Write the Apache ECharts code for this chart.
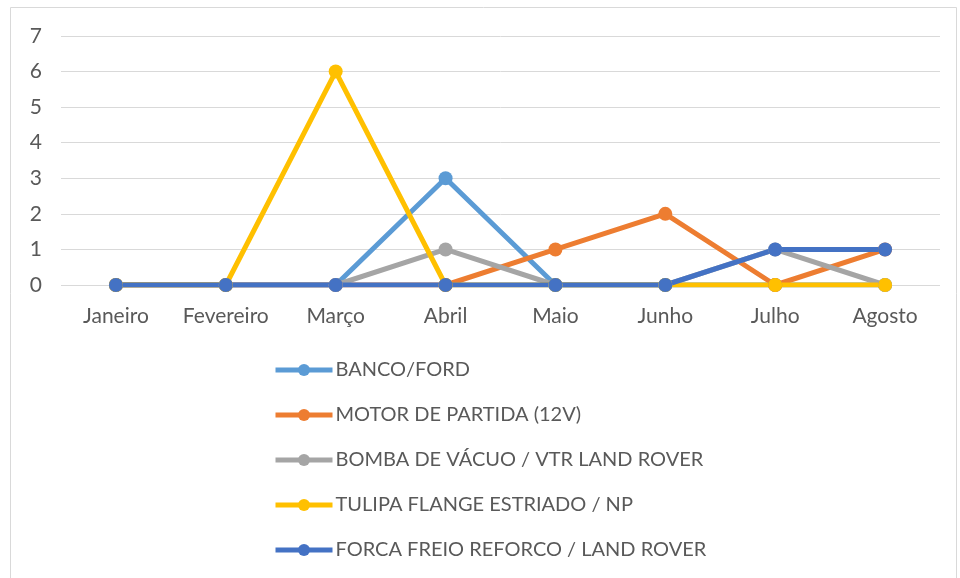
<!DOCTYPE html>
<html>
<head>
<meta charset="utf-8">
<script src="https://cdn.jsdelivr.net/npm/echarts@6/dist/echarts.min.js"></script>
<style>
html,body{margin:0;padding:0;background:#fff;}
#chart{width:960px;height:578px;}
</style>
</head>
<body>
<div id="chart"></div>
<script>
var months = ['Janeiro','Fevereiro','Março','Abril','Maio','Junho','Julho','Agosto'];
var bancoFord = [0,0,0,3,0,0,0,0];
var motorPartida = [0,0,0,0,1,2,0,1];
var bombaVacuo = [0,0,0,1,0,0,1,0];
var tulipaFlange = [0,0,6,0,0,0,0,0];
var forcaFreio = [0,0,0,0,0,0,1,1];

var names = ['BANCO/FORD','MOTOR DE PARTIDA (12V)','BOMBA DE VÁCUO / VTR LAND ROVER','TULIPA FLANGE ESTRIADO / NP','FORCA FREIO REFORCO / LAND ROVER'];
var colors = ['#5B9BD5','#ED7D31','#A5A5A5','#FFC000','#4472C4'];
var values = [bancoFord, motorPartida, bombaVacuo, tulipaFlange, forcaFreio];

var font = 'Lato, "Open Sans", sans-serif';

function makeSeries(i) {
    return {
        name: names[i],
        type: 'line',
        data: values[i],
        symbol: 'circle',
        symbolSize: 14,
        showSymbol: true,
        animation: false,
        lineStyle: {width: 5, color: colors[i]},
        itemStyle: {color: colors[i]}
    };
}

var chart = echarts.init(document.getElementById('chart'));
chart.setOption({
    color: colors,
    animation: false,
    graphic: [{
        type: 'rect',
        shape: {x: 10.5, y: 7.5, width: 946, height: 580},
        style: {fill: 'none', stroke: '#d9d9d9', lineWidth: 1}
    }],
    grid: {left: 61, right: 20, top: 36, bottom: 293},
    legend: {
        orient: 'vertical',
        left: 273,
        top: 360,
        height: 218,
        padding: 0,
        itemWidth: 57,
        itemHeight: 15,
        itemGap: 25,
        lineStyle: {width: 5},
        textStyle: {fontFamily: font, fontSize: 20, lineHeight: 20, color: '#595959', padding: [0, 0, 0, -2]},
        data: names
    },
    xAxis: {
        type: 'category',
        data: months,
        boundaryGap: true,
        axisLine: {show: false},
        axisTick: {show: false},
        axisLabel: {interval: 0, fontFamily: font, fontSize: 21, color: '#595959', margin: 21}
    },
    yAxis: {
        type: 'value',
        min: 0,
        max: 7,
        interval: 1,
        axisLine: {show: false},
        axisTick: {show: false},
        axisLabel: {fontFamily: font, fontSize: 21, color: '#595959', margin: 19},
        splitLine: {lineStyle: {color: '#d9d9d9', width: 1}}
    },
    series: [0,1,2,3,4].map(makeSeries)
});
</script>
</body>
</html>
